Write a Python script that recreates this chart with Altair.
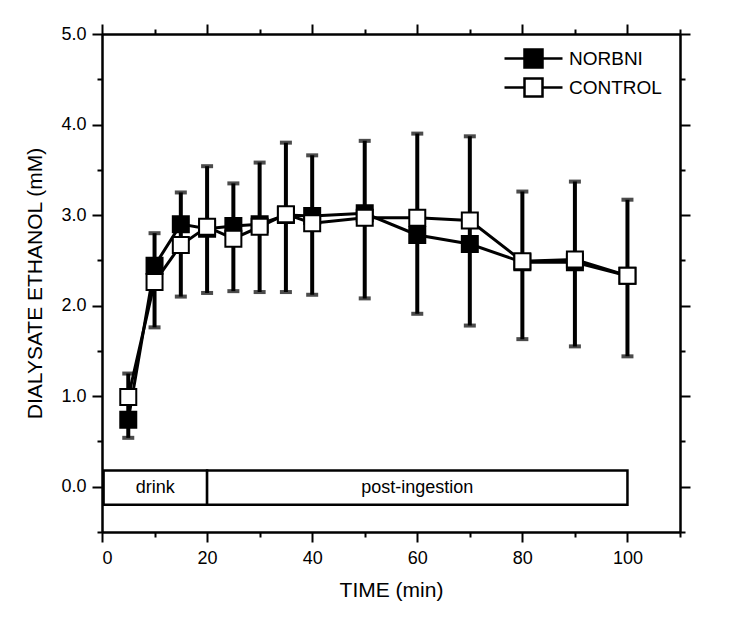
import altair as alt
import pandas as pd

# ---- data ----
time = [5, 10, 15, 20, 25, 30, 35, 40, 50, 60, 70, 80, 90, 100]
norbni = [0.74, 2.44, 2.90, 2.85, 2.88, 2.90, 3.00, 2.99, 3.02, 2.78, 2.68, 2.48, 2.48, 2.33]
control = [0.99, 2.26, 2.67, 2.87, 2.74, 2.87, 3.01, 2.91, 2.97, 2.97, 2.94, 2.49, 2.51, 2.33]
err_high = [1.25, 2.80, 3.25, 3.54, 3.35, 3.58, 3.80, 3.66, 3.82, 3.90, 3.87, 3.26, 3.37, 3.17]
err_low = [0.54, 1.76, 2.10, 2.14, 2.16, 2.15, 2.15, 2.12, 2.08, 1.91, 1.78, 1.63, 1.55, 1.44]

series_names = ["NORBNI", "CONTROL"]

phase_labels = ["drink", "post-ingestion"]
phase_start = [0.3, 20]
phase_end = [20, 100]
phase_low = [-0.2, -0.2]
phase_high = [0.18, 0.18]

x_major = [0, 20, 40, 60, 80, 100]
x_minor = [10, 30, 50, 70, 90, 110]
y_major = [0.0, 1.0, 2.0, 3.0, 4.0, 5.0]
y_minor = [-0.5, 0.5, 1.5, 2.5, 3.5, 4.5]

# ---- tables ----
long_df = pd.DataFrame({
    "time": time * 2,
    "value": norbni + control,
    "series": [series_names[0]] * len(time) + [series_names[1]] * len(time),
})
err_df = pd.DataFrame({"time": time, "lo": err_low, "hi": err_high})
phase_df = pd.DataFrame({
    "label": phase_labels,
    "x0": phase_start,
    "x1": phase_end,
    "y0": phase_low,
    "y1": phase_high,
})
phase_df["xm"] = (phase_df["x0"] + phase_df["x1"]) / 2
phase_df["ym"] = (phase_df["y0"] + phase_df["y1"]) / 2

FONT = "Liberation Sans"
xs = alt.Scale(domain=[0, 110], nice=False, zero=False)
ys = alt.Scale(domain=[-0.5, 5.0], nice=False, zero=False)

common = dict(domainColor="black", domainWidth=2, tickColor="black", tickWidth=2,
              grid=False, labelFont=FONT, labelColor="black", labelFontSize=18,
              titleFont=FONT, titleColor="black", titleFontSize=21, titleFontWeight="normal")


def ax(orient, values, size, labels, title=None, fmt=None, **kw):
    d = dict(common)
    d.update(kw)
    d.update(orient=orient, values=values, tickSize=size, labels=labels)
    if fmt:
        d["format"] = fmt
    if title:
        d["title"] = title
    return alt.Axis(**d)


base = alt.Chart(long_df)

# phase boxes
boxes = alt.Chart(phase_df).mark_rect(fill="white", stroke="black", strokeWidth=2.5).encode(
    x=alt.X("x0:Q", scale=xs, axis=None),
    x2="x1:Q",
    y=alt.Y("y0:Q", scale=ys, axis=None),
    y2="y1:Q",
)
box_text = alt.Chart(phase_df).mark_text(font=FONT, fontSize=18, color="black", baseline="middle").encode(
    x=alt.X("xm:Q", scale=xs, axis=None),
    y=alt.Y("ym:Q", scale=ys, axis=None),
    text="label:N",
)

# error bars (carry bottom/left major axes)
rules = alt.Chart(err_df).mark_rule(color="black", strokeWidth=4).encode(
    x=alt.X("time:Q", scale=xs,
            axis=ax("bottom", x_major, 10, True, title="TIME (min)", labelPadding=7, titlePadding=12)),
    y=alt.Y("lo:Q", scale=ys,
            axis=ax("left", y_major, 10, True, title="DIALYSATE ETHANOL (mM)", fmt=".1f",
                    labelPadding=6, titlePadding=15)),
    y2="hi:Q",
)
# caps (carry bottom/left minor axes)
caps = alt.Chart(err_df).transform_fold(["lo", "hi"], as_=["which", "cap"]).mark_tick(
    color="black", thickness=4, size=12, orient="horizontal"
).encode(
    x=alt.X("time:Q", scale=xs, axis=ax("bottom", x_minor, 5, False), title=None),
    y=alt.Y("cap:Q", scale=ys, axis=ax("left", y_minor, 5, False), title=None),
)

# lines (carry top/right minor axes)
lines = base.mark_line(color="black", strokeWidth=3).encode(
    x=alt.X("time:Q", scale=xs, axis=ax("top", x_minor, 5, False), title=None),
    y=alt.Y("value:Q", scale=ys, axis=ax("right", y_minor, 5, False), title=None),
    detail="series:N",
)

legend_path = "M-2.9,0H-0.9M0.9,0H2.9M-0.9,-0.9H0.9V0.9H-0.9Z"
points = base.mark_point(shape="square", filled=True, stroke="black", strokeWidth=2,
                         size=256, opacity=1).encode(
    x=alt.X("time:Q", scale=xs, axis=ax("top", x_major, 10, False), title=None),
    y=alt.Y("value:Q", scale=ys, axis=ax("right", y_major, 10, False), title=None),
    fill=alt.Fill("series:N",
                  scale=alt.Scale(domain=series_names, range=["black", "white"]),
                  legend=alt.Legend(title=None, orient="none", legendX=420, legendY=13,
                                    symbolType=legend_path, symbolSize=400,
                                    symbolStrokeColor="black", symbolStrokeWidth=2.5,
                                    symbolOpacity=1,
                                    labelFont=FONT, labelFontSize=19, labelColor="black",
                                    labelOffset=24, rowPadding=0, padding=0)),
    order=alt.Order("order:Q"),
).transform_calculate(order="datum.series == 'CONTROL' ? 1 : 0")

chart = alt.layer(boxes, box_text, rules, caps, lines, points).resolve_axis(
    x="independent", y="independent"
).properties(
    width=578, height=498,
    autosize=alt.AutoSizeParams(type="none"),
    padding={"left": 94, "top": 26, "right": 40, "bottom": 80},
).configure_view(strokeWidth=0)

chart.save("out.html", embed_options={"renderer": "svg", "actions": False})
